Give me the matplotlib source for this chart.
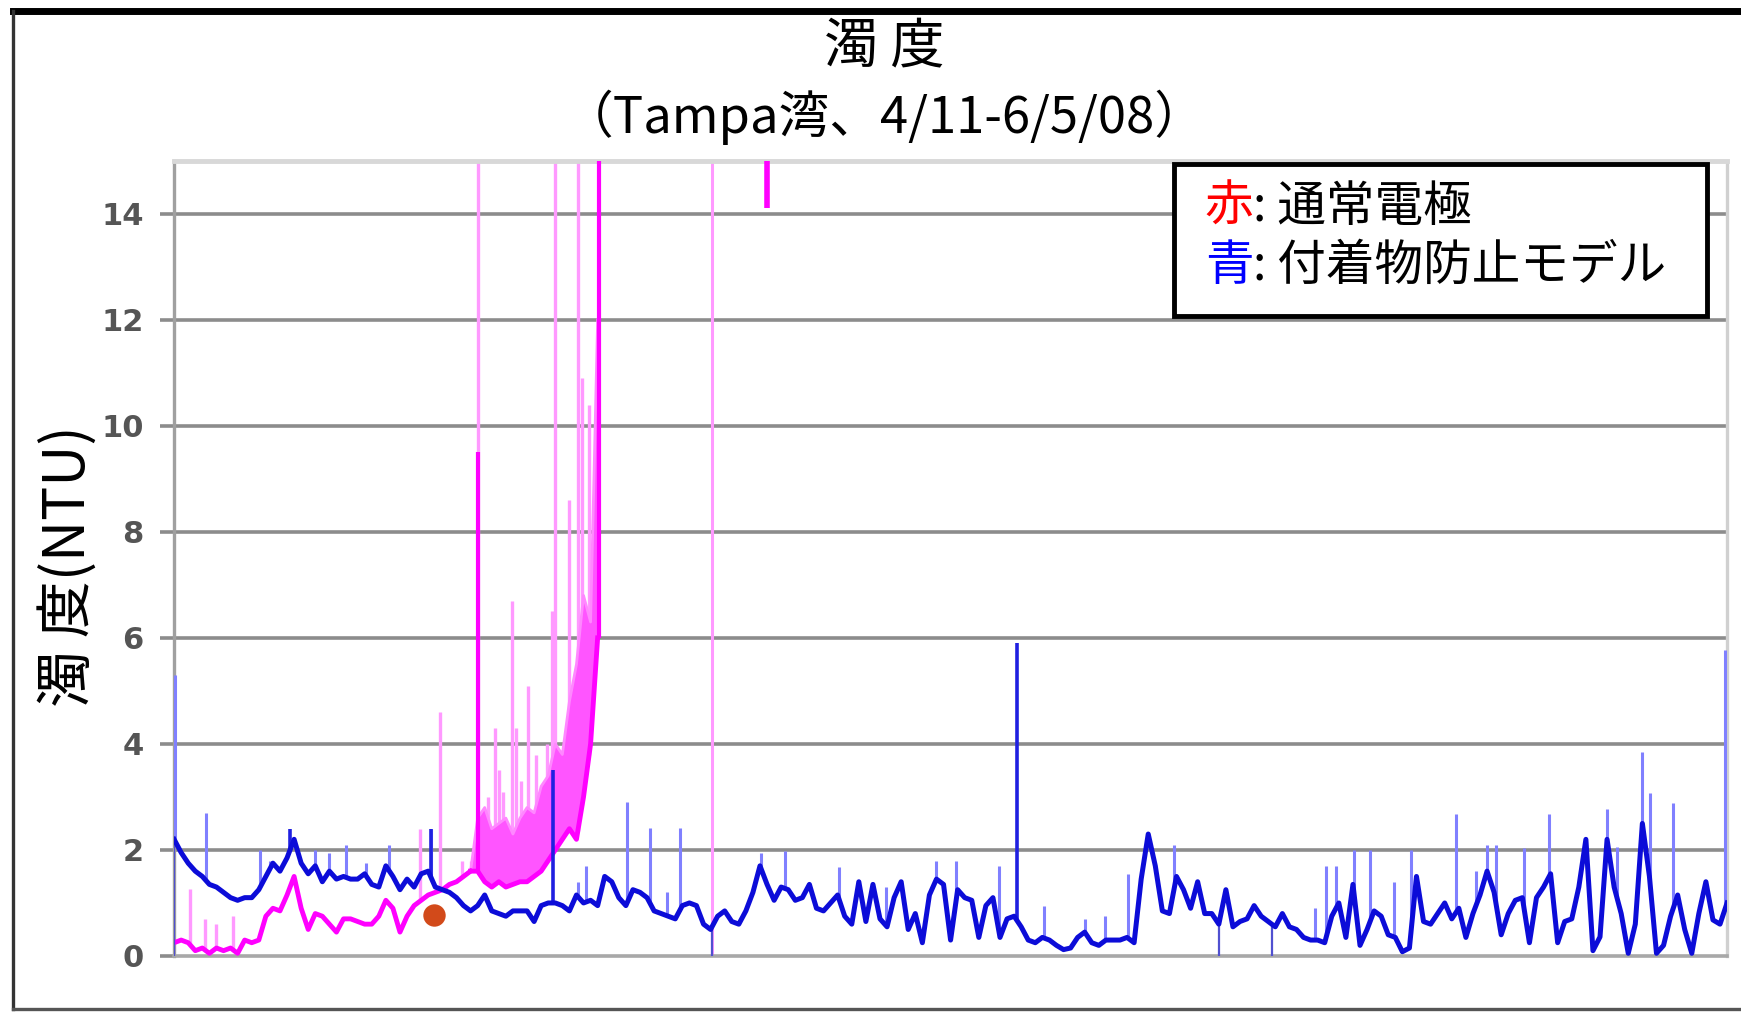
import numpy as np
import matplotlib
matplotlib.use("Agg")
import matplotlib.pyplot as plt
from matplotlib.lines import Line2D
from matplotlib.patches import Rectangle
from matplotlib.text import Annotation

plt.rcParams['font.family'] = ['Noto Sans CJK JP', 'DejaVu Sans']

# blue series (付着物防止モデル), one value every 0.25 day from 4/11
blue_val = [
    2.2, 1.95, 1.75, 1.6,   1.5, 1.35, 1.3, 1.2,    1.1, 1.05, 1.1, 1.1,
    1.25, 1.5, 1.75, 1.6,   1.85, 2.2, 1.75, 1.55,  1.7, 1.4, 1.6, 1.45,
    1.5, 1.45, 1.45, 1.55,  1.35, 1.3, 1.7, 1.5,    1.25, 1.45, 1.3, 1.55,
    1.6, 1.3, 1.25, 1.2,    1.1, 0.95, 0.85, 0.95,  1.15, 0.85, 0.8, 0.75,
    0.85, 0.85, 0.85, 0.65, 0.95, 1.0, 1.0, 0.95,   0.85, 1.15, 1.0, 1.05,
    0.95, 1.5, 1.4, 1.1,    0.95, 1.25, 1.2, 1.1,   0.85, 0.8, 0.75, 0.7,
    0.95, 1.0, 0.95, 0.6,   0.5, 0.75, 0.85, 0.65,  0.6, 0.85, 1.2, 1.7,
    1.35, 1.05, 1.3, 1.25,  1.05, 1.1, 1.35, 0.9,   0.85, 1.0, 1.15, 0.75,
    0.6, 1.4, 0.65, 1.35,   0.7, 0.55, 1.1, 1.4,    0.5, 0.8, 0.25, 1.15,
    1.45, 1.35, 0.3, 1.25,  1.1, 1.05, 0.35, 0.95,  1.1, 0.35, 0.7, 0.75,
    0.55, 0.3, 0.25, 0.35,  0.3, 0.2, 0.12, 0.15,   0.35, 0.45, 0.25, 0.2,
    0.3, 0.3, 0.3, 0.35,    0.25, 1.45, 2.3, 1.7,   0.85, 0.8, 1.5, 1.25,
    0.9, 1.4, 0.8, 0.8,     0.6, 1.25, 0.55, 0.65,  0.7, 0.95, 0.75, 0.65,
    0.55, 0.8, 0.55, 0.5,   0.35, 0.3, 0.3, 0.25,   0.75, 1.0, 0.35, 1.35,
    0.2, 0.5, 0.85, 0.75,   0.4, 0.35, 0.08, 0.15,  1.5, 0.65, 0.6, 0.8,
    1.0, 0.7, 0.9, 0.35,    0.8, 1.15, 1.6, 1.2,    0.4, 0.8, 1.05, 1.1,
    0.25, 1.1, 1.3, 1.55,   0.25, 0.65, 0.7, 1.3,   2.2, 0.1, 0.36, 2.2,
    1.3, 0.8, 0.05, 0.6,    2.5, 1.5, 0.05, 0.2,    0.75, 1.15, 0.5, 0.05,
    0.8, 1.4, 0.68, 0.6,    1.0,
]
blue_day = np.arange(len(blue_val)) * 0.25

# thin light-blue spikes (day, peak)
blue_spike_day = [0.02, 1.13, 3.05, 3.4, 5.0, 5.5, 6.1, 6.8, 7.6, 9.1, 14.3, 14.6,
                  16.05, 16.85, 17.45, 17.9, 20.8, 21.65, 23.55, 25.2, 27.0, 27.7,
                  29.2, 30.8, 32.25, 32.97, 33.8, 35.4, 40.4, 40.8, 41.15, 41.8,
                  42.35, 43.2, 43.8, 45.4, 46.1, 46.5, 46.8, 47.8, 48.7, 50.73,
                  51.1, 52.0, 52.27, 53.07, 54.92]
blue_spike_top = [5.3, 2.7, 2.0, 1.8, 2.0, 1.95, 2.1, 1.75, 2.1, 2.4, 1.4, 1.7,
                  2.9, 2.42, 1.2, 2.42, 1.95, 1.98, 1.67, 1.3, 1.8, 1.8,
                  1.7, 0.95, 0.7, 0.75, 1.55, 2.1, 0.9, 1.7, 1.7, 2.0,
                  2.0, 1.4, 2.0, 2.67, 1.6, 2.1, 2.1, 2.04, 2.67, 2.78,
                  2.06, 3.85, 3.07, 2.88, 5.77]
# dark blue spikes
blue_dark_day = [4.1, 9.1, 13.43, 29.85]
blue_dark_top = [2.4, 2.4, 3.5, 5.9]
# thin drops to zero
blue_drop_day = [0.0, 19.05, 37.0, 38.9]

# magenta series (通常電極), every 0.25 day, day 0 - 10.5
mag_val = [
    0.25, 0.3, 0.25, 0.1,   0.15, 0.05, 0.15, 0.1,  0.15, 0.05, 0.3, 0.25,
    0.3, 0.75, 0.9, 0.85,   1.15, 1.5, 0.9, 0.5,    0.8, 0.75, 0.6, 0.45,
    0.7, 0.7, 0.65, 0.6,    0.6, 0.75, 1.05, 0.9,   0.45, 0.75, 0.95, 1.05,
    1.15, 1.2, 1.25, 1.35,  1.4, 1.5, 1.6,
]
mag_day = np.arange(len(mag_val)) * 0.25

# dense noisy band of the magenta series, day 10.5 - 15.0
band_day = 10.5 + np.arange(19) * 0.25
band_lo = [1.6, 1.6, 1.4, 1.3, 1.4, 1.3, 1.35, 1.4, 1.4, 1.5, 1.6, 1.8, 2.0,
           2.2, 2.4, 2.2, 3.0, 4.0, 6.0]
band_hi = [1.6, 2.6, 2.8, 2.4, 2.5, 2.6, 2.3, 2.6, 2.8, 2.7, 3.2, 3.4, 4.0,
           3.8, 4.8, 5.5, 6.8, 6.3, 12.0]

# light pink spikes
pink_spike_day = [0.55, 1.1, 1.5, 2.1, 8.7, 9.4, 10.2, 10.5, 10.77, 11.1, 11.35,
                  11.5, 11.65, 11.96, 12.1, 12.3, 12.54, 12.8, 13.2, 13.37, 13.5,
                  14.0, 14.3, 14.45, 14.7]
pink_spike_top = [1.26, 0.7, 0.6, 0.75, 2.4, 4.6, 1.8, 1.8, 15.0, 3.0, 4.3,
                  3.5, 3.1, 6.7, 4.3, 3.3, 5.1, 3.8, 4.0, 6.5, 15.0,
                  8.6, 15.0, 10.9, 10.4]
# bright magenta spikes
mag_bright_day = [10.77, 15.05]
mag_bright_top = [9.5, 15.0]
# full-height light line and top fragment
pink_full_day = [19.05]
mag_top_day = [21.0]
mag_top_lo = [14.1]

dot_day = [9.2]
dot_val = [0.78]

yticks = [0, 2, 4, 6, 8, 10, 12, 14]

fig = plt.figure(figsize=(17.41, 10.13), dpi=100)
ax = fig.add_axes([0.100, 0.0563, 0.892, 0.785])
ax.set_xlim(0, 55)
ax.set_ylim(0, 15)

for y in yticks[1:]:
    ax.axhline(y, color='#8c8c8c', lw=2.6, zorder=1)

# magenta
mag_all_day = np.concatenate([mag_day, band_day])
mag_all_lo = np.concatenate([mag_val, band_lo])
ax.vlines(pink_full_day, 0, 15, color='#ff99ff', lw=2.2, zorder=2)
ax.vlines(pink_spike_day, np.interp(pink_spike_day, mag_all_day, mag_all_lo),
          pink_spike_top, color='#ff99ff', lw=2.4, zorder=2)
ax.fill_between(band_day, band_lo, band_hi, color='#ff55ff', lw=0, zorder=3)
ax.plot(band_day, band_hi, color='#ff88ff', lw=2, zorder=3)
ax.plot(mag_day, mag_val, color='#ff00ff', lw=3.5, zorder=3)
ax.plot(band_day, band_lo, color='#ff00ff', lw=3.5, zorder=3)
ax.vlines(mag_bright_day, np.interp(mag_bright_day, mag_all_day, mag_all_lo),
          mag_bright_top, color='#ff00ff', lw=3, zorder=3)
ax.vlines(mag_top_day, mag_top_lo, 15, color='#ff00ff', lw=4, zorder=3)

# blue
base = np.interp(blue_spike_day, blue_day, blue_val)
ax.vlines(blue_spike_day, base, blue_spike_top, color='#8080ff', lw=2.2, zorder=4)
ax.vlines(blue_drop_day, 0, np.interp(blue_drop_day, blue_day, blue_val),
          color='#5050d0', lw=1.6, zorder=4)
ax.vlines(blue_dark_day, np.interp(blue_dark_day, blue_day, blue_val),
          blue_dark_top, color='#2020e0', lw=2.6, zorder=5)
ax.plot(blue_day, blue_val, color='#0c0cd8', lw=3.6, zorder=5)

ax.scatter(dot_day, dot_val, s=260, color='#d24a1a', zorder=6, lw=0)

ax.set_yticks(yticks)
ax.set_xticks([])
ax.tick_params(axis='y', direction='out', length=10, width=2.6, color='#8c8c8c',
               pad=12, labelsize=22, labelcolor='#555555')
for lab in ax.get_yticklabels():
    lab.set_fontweight('bold')
    lab.set_family('DejaVu Sans')

ax.spines['left'].set_color('#a0a0a0')
ax.spines['left'].set_linewidth(2.4)
ax.spines['bottom'].set_color('#a8a8a8')
ax.spines['bottom'].set_linewidth(2.6)
ax.spines['top'].set_color('#d8d8d8')
ax.spines['top'].set_linewidth(3.5)
ax.spines['right'].set_color('#d0d0d0')
ax.spines['right'].set_linewidth(2.4)

# titles and axis label
fig.text(0.508, 0.9536, '濁 度', ha='center', va='center', fontsize=39)
fig.text(0.508, 0.8845, '（Tampa湾、4/11-6/5/08）', ha='center', va='center',
         fontsize=36.5)
fig.text(0.039, 0.441, '濁 度(NTU)', ha='center', va='center', rotation=90,
         fontsize=41)

# legend box
fig.add_artist(Rectangle((0.6743, 0.688), 0.3062, 0.150, transform=fig.transFigure,
                         facecolor='white', edgecolor='black', lw=3.5, zorder=10))
t1 = fig.text(0.692, 0.7957, '赤', color='#ff0000', ha='left', va='center',
              fontsize=35, zorder=11)
fig.add_artist(Annotation(': 通常電極', xy=(1, 0), xycoords=t1, va='bottom',
                          fontsize=35, color='black', zorder=11))
t2 = fig.text(0.692, 0.7374, '青', color='#0000ff', ha='left', va='center',
              fontsize=35, zorder=11)
fig.add_artist(Annotation(': 付着物防止モデル', xy=(1, 0), xycoords=t2, va='bottom',
                          fontsize=35, color='black', zorder=11))

# outer frame
fig.add_artist(Line2D([0.0075, 1.0], [0.989, 0.989], color='black', lw=5,
                      transform=fig.transFigure))
fig.add_artist(Line2D([0.0075, 0.0075], [0.004, 0.989], color='#333333', lw=2.4,
                      transform=fig.transFigure))
fig.add_artist(Line2D([0.0075, 1.0], [0.004, 0.004], color='#555555', lw=2.4,
                      transform=fig.transFigure))

fig.savefig('out.png', dpi=100)
